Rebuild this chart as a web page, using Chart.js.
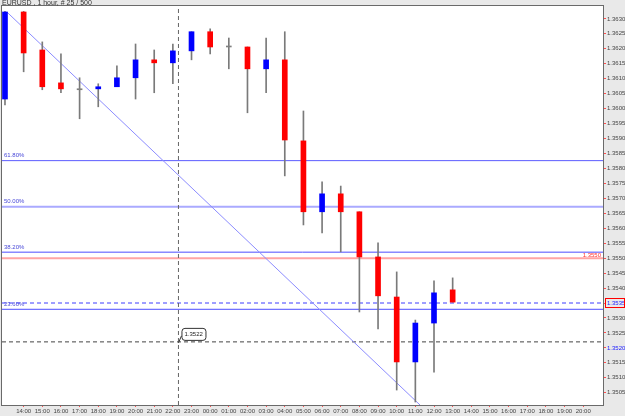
<!DOCTYPE html>
<html>
<head>
<meta charset="utf-8">
<script src="https://cdn.jsdelivr.net/npm/chart.js@4"></script>
<style>
  html, body { margin: 0; padding: 0; background: #e9e9e9; }
  #wrap { width: 625px; height: 416px; }
</style>
</head>
<body>
<div id="wrap"><canvas id="myChart"></canvas></div>
<script>
const ctx = document.getElementById('myChart');

// hour labels, index 0 = 13:00
const hours = ['13:00', '14:00', '15:00', '16:00', '17:00', '18:00', '19:00', '20:00', '21:00', '22:00', '23:00',
  '00:00', '01:00', '02:00', '03:00', '04:00', '05:00', '06:00', '07:00', '08:00', '09:00', '10:00',
  '11:00', '12:00', '13:00', '14:00', '15:00', '16:00', '17:00', '18:00', '19:00', '20:00'];

// EURUSD 1 hour candles
const opens  = [1.36032, 1.36323, 1.36196, 1.36086, 1.36063, 1.36066, 1.36073, 1.36103, 1.36163, 1.36153, 1.36193, 1.36257, 1.36206,
  1.36206, 1.36133, 1.36163, 1.35892, 1.35655, 1.35715, 1.35655, 1.35504, 1.35370, 1.35153, 1.35283, 1.35394];
const highs  = [1.36325, 1.36325, 1.36223, 1.36183, 1.36103, 1.36083, 1.36143, 1.36216, 1.36196, 1.36216, 1.36257, 1.36267, 1.36236,
  1.36206, 1.36236, 1.36257, 1.35992, 1.35755, 1.35741, 1.35655, 1.35551, 1.35454, 1.35293, 1.35424, 1.35434];
const lows   = [1.36012, 1.36123, 1.36063, 1.36053, 1.35966, 1.36006, 1.36073, 1.36032, 1.36053, 1.36083, 1.36163, 1.36183, 1.36133,
  1.35986, 1.36053, 1.35775, 1.35611, 1.35584, 1.35521, 1.35320, 1.35263, 1.35059, 1.35019, 1.35119, 1.35353];
const closes = [1.36323, 1.36186, 1.36073, 1.36066, 1.36063, 1.36073, 1.36103, 1.36163, 1.36153, 1.36193, 1.36257, 1.36206, 1.36206,
  1.36133, 1.36163, 1.35895, 1.35655, 1.35715, 1.35655, 1.35504, 1.35374, 1.35153, 1.35283, 1.35384, 1.35353];

// fibo levels
const fibLabels = ['61.80%', '50.00%', '38.20%', '23.60%'];
const fibPrices = [1.35826, 1.35672, 1.35520, 1.35329];
const fibColors = ['#5c5cff', '#aaaaff', '#4c4cff', '#4c4cff'];
const fibWidths = [1, 2, 1, 1];

const redLevel = 1.3550;
const bidLevel = 1.3535;
const markLevel = 1.3522;
const sepX = 9.3;
const trendStart = {x: 0.1, y: 1.36323};
const trendEnd = {x: 22.25, y: 1.35009};

const yMin = 1.35009, yMax = 1.36343;
const xMin = -0.16, xMax = 32.06;

const idx = opens.map((o, i) => i);
const colorFor = i => closes[i] > opens[i] ? '#0000ff' : (closes[i] < opens[i] ? '#ff0000' : '#808080');

const hLine = (y, color, width, dash) => ({
  type: 'line',
  data: [{x: xMin, y: y}, {x: xMax, y: y}],
  borderColor: color, borderWidth: width, borderDash: dash || [],
  pointRadius: 0, order: 5
});

const datasets = [
  {
    type: 'bar',
    data: idx.map(i => ({x: i, y: [opens[i], closes[i]]})),
    backgroundColor: idx.map(colorFor),
    barThickness: 5, minBarLength: 1, grouped: false, order: 0
  },
  {
    type: 'bar',
    data: idx.map(i => ({x: i, y: [lows[i], highs[i]]})),
    backgroundColor: '#7a7a7a',
    barThickness: 1, grouped: false, order: 1
  },
  ...fibPrices.map((p, i) => hLine(p, fibColors[i], fibWidths[i])),
  hLine(redLevel, '#ffa4a4', 2),
  hLine(bidLevel, '#3c3cff', 1, [4, 3]),
  hLine(markLevel, '#444444', 1, [4, 3]),
  {
    type: 'line',
    data: [trendStart, trendEnd],
    borderColor: '#8c8cff', borderWidth: 1, pointRadius: 0, order: 4
  },
  {
    type: 'line',
    data: [{x: sepX, y: yMin}, {x: sepX, y: yMax}],
    borderColor: '#666666', borderWidth: 1, borderDash: [4, 3], pointRadius: 0, order: 4
  }
];

const smallFont = {family: 'Liberation Sans', size: 6};

const decor = {
  id: 'decor',
  beforeDraw(chart) {
    const c = chart.ctx, a = chart.chartArea;
    c.save();
    c.fillStyle = '#e9e9e9';
    c.fillRect(0, 0, chart.width, chart.height);
    c.fillStyle = '#ffffff';
    c.fillRect(a.left, a.top, a.right - a.left, a.bottom - a.top);
    c.restore();
  },
  afterDraw(chart) {
    const c = chart.ctx, a = chart.chartArea;
    const xs = chart.scales.x, ys = chart.scales.y;
    c.save();
    c.strokeStyle = '#6a6a6a';
    c.lineWidth = 1;
    c.strokeRect(a.left - 0.5, a.top - 0.5, a.right - a.left + 1, a.bottom - a.top + 1);

    c.textBaseline = 'middle';
    // title
    c.font = '7px "Liberation Sans"';
    c.fillStyle = '#333333';
    c.fillText('EURUSD , 1 hour, # 25 / 500', 2, 3);

    c.font = '6px "Liberation Sans"';
    // fibo labels
    c.fillStyle = '#4848d8';
    fibPrices.forEach((p, i) => {
      c.fillText(fibLabels[i], a.left + 2, ys.getPixelForValue(p) - 5);
    });

    // red level label
    c.fillStyle = '#ff3030';
    c.textAlign = 'right';
    c.fillText(redLevel.toFixed(4), a.right - 2, ys.getPixelForValue(redLevel) - 3);

    // bid box on axis
    const by = Math.round(ys.getPixelForValue(bidLevel));
    c.strokeStyle = '#ff0000';
    c.strokeRect(a.right + 2.5, by - 4.5, 19, 9);

    // price mark with pointer
    const mx = xs.getPixelForValue(sepX), my = ys.getPixelForValue(markLevel);
    c.strokeStyle = '#333333';
    c.beginPath();
    c.moveTo(mx, my + 1);
    c.lineTo(mx + 3, my - 6);
    c.stroke();
    c.beginPath();
    c.roundRect(mx + 3.5, my - 13.5, 24, 12, 3);
    c.fillStyle = '#ffffff';
    c.fill();
    c.stroke();
    c.fillStyle = '#222222';
    c.textAlign = 'left';
    c.fillText(markLevel.toFixed(4), mx + 6, my - 7.5);
    c.restore();
  }
};

new Chart(ctx, {
  data: {datasets},
  options: {
    responsive: true,
    maintainAspectRatio: false,
    animation: false,
    layout: {padding: {left: 2, top: 6, right: 0, bottom: 0}},
    plugins: {legend: {display: false}, tooltip: {enabled: false}},
    scales: {
      x: {
        type: 'linear',
        offset: false,
        min: xMin, max: xMax,
        afterBuildTicks: s => { s.ticks = hours.map((h, i) => ({value: i})).filter(t => t.value >= 1); },
        afterFit: s => { s.height = 11; },
        grid: {drawOnChartArea: false, drawTicks: true, tickLength: 2, color: '#ff5050', offset: false},
        border: {display: true, color: '#6a6a6a'},
        ticks: {
          autoSkip: false, maxRotation: 0, padding: 1,
          font: smallFont, color: '#444444',
          callback: v => hours[v]
        }
      },
      y: {
        type: 'linear',
        position: 'right',
        min: yMin, max: yMax,
        afterBuildTicks: s => {
          const t = [];
          for (let k = 0; k <= 25; k++) t.push({value: +(1.3505 + k * 0.0005).toFixed(4)});
          s.ticks = t;
        },
        afterFit: s => { s.width = 22; },
        grid: {drawOnChartArea: false, drawTicks: true, tickLength: 3, color: '#ff5050'},
        border: {display: true, color: '#6a6a6a'},
        ticks: {
          padding: 1, font: smallFont,
          color: c => (Math.abs(c.tick.value - 1.3520) < 1e-6 || Math.abs(c.tick.value - bidLevel) < 1e-6) ? '#2020ff' : '#444444',
          callback: v => v.toFixed(4)
        }
      }
    }
  },
  plugins: [decor]
});
</script>
</body>
</html>
